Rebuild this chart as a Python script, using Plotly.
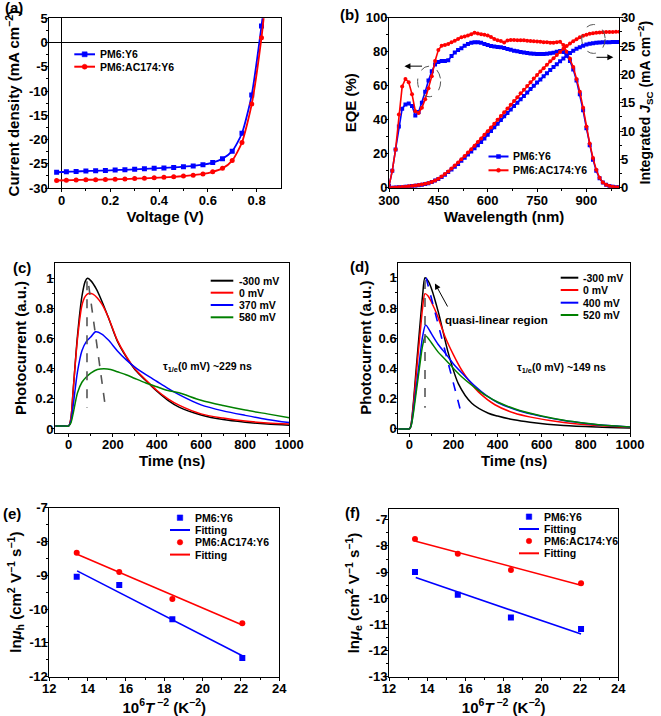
import plotly.graph_objects as go

W, H = 661, 716
FONT = "Liberation Sans, Arial, Helvetica, sans-serif"
BLUE = "#0000FF"
RED = "#FF0000"
GREEN = "#008000"
BLACK = "#000000"
GRAY = "#555555"

# ---------------- (a) J-V ----------------
a_voltage = [-0.02, 0.02, 0.06, 0.10, 0.14, 0.18, 0.22, 0.26, 0.30, 0.34, 0.38, 0.42,
             0.46, 0.50, 0.54, 0.58, 0.62, 0.66, 0.70, 0.74, 0.78, 0.82, 0.835]
a_j_pm6y6 = [-26.75, -26.65, -26.6, -26.5, -26.45, -26.4, -26.3, -26.25, -26.15, -26.05, -25.95, -25.85,
             -25.75, -25.6, -25.45, -25.2, -24.75, -23.95, -22.4, -18.7, -10.8, 3.4, 9.5]
a_j_ac174 = [-28.45, -28.4, -28.35, -28.3, -28.3, -28.25, -28.2, -28.15, -28.05, -28.0, -27.9, -27.8,
             -27.7, -27.55, -27.35, -27.1, -26.65, -25.95, -24.35, -20.6, -12.7, 1.0, 8.0]

# ---------------- (b) EQE + integrated Jsc ----------------
b_wavelength = [300, 310, 320, 330, 340, 350, 360, 370, 380, 390,
                400, 410, 420, 430, 440, 450, 460, 470, 480, 490,
                500, 510, 520, 530, 540, 550, 560, 570, 580, 590,
                600, 610, 620, 630, 640, 650, 660, 670, 680, 690,
                700, 710, 720, 730, 740, 750, 760, 770, 780, 790,
                800, 810, 820, 830, 840, 850, 860, 870, 880, 890,
                900, 910, 920, 930, 940, 950, 960, 970, 980, 990, 1000]
b_eqe_pm6y6 = [1, 10, 22.5, 36, 46.5, 49, 49.5, 48, 42.5, 44.5,
               50, 56.5, 63, 68.5, 72.5, 74, 74.5, 74.5, 75, 77.5,
               79.5, 81, 82, 83.5, 84.5, 85.2, 85.6, 85.5, 85.2, 84.6,
               84, 83.4, 83, 82.8, 82.6, 82.2, 81.6, 81.2, 80.6, 80.2,
               79.8, 79.5, 79.3, 79, 78.8, 78.7, 78.6, 78.7, 78.8, 79.1,
               79.4, 79.9, 80.4, 79.8, 77.8, 74.5, 69.5, 63, 55, 45.5,
               35, 25, 16.5, 10, 5.5, 3, 1.7, 1, 0.6, 0.3, 0.2]
b_eqe_ac174 = [1, 10, 22.5, 43, 59.5, 64, 62, 55, 45, 44,
               47, 52, 58.5, 65.5, 74.5, 81, 83.5, 84, 84.5, 85.5,
               86.5, 87.5, 88.5, 89, 89.6, 90.2, 91.2, 90.7, 90.3, 90,
               89.5, 88.6, 87.5, 86.8, 86.3, 85.4, 86.6, 86.9, 86.9, 86.8,
               86.8, 86.7, 86.5, 86.3, 86.2, 86, 85.8, 85.6, 85.5, 85.3,
               85.2, 85.5, 85.8, 84, 80, 76, 71, 64, 56.5, 47,
               36, 26, 17.5, 10.5, 5.8, 3.1, 1.8, 1, 0.6, 0.3, 0.2]
b_jsc_pm6y6 = [0, 0.01, 0.03, 0.06, 0.1, 0.15, 0.21, 0.28, 0.35, 0.43,
               0.53, 0.65, 0.8, 1.0, 1.25, 1.55, 1.9, 2.3, 2.75, 3.22,
               3.7, 4.2, 4.75, 5.3, 5.85, 6.4, 6.95, 7.5, 8.05, 8.7,
               9.35, 10.0, 10.65, 11.3, 11.95, 12.6, 13.2, 13.8, 14.4, 15.0,
               15.6, 16.2, 16.8, 17.4, 18.0, 18.55, 19.1, 19.65, 20.2, 20.75,
               21.3, 21.8, 22.3, 22.8, 23.3, 23.75, 24.15, 24.5, 24.8, 25.05,
               25.25, 25.4, 25.5, 25.57, 25.62, 25.65, 25.67, 25.68, 25.69, 25.7, 25.7]
b_jsc_ac174 = [0, 0.01, 0.03, 0.07, 0.12, 0.18, 0.25, 0.32, 0.39, 0.47,
               0.56, 0.68, 0.83, 1.02, 1.28, 1.6, 1.98, 2.4, 2.87, 3.37,
               3.9, 4.45, 5.02, 5.6, 6.2, 6.8, 7.42, 8.05, 8.68, 9.33,
               9.98, 10.63, 11.3, 11.97, 12.65, 13.32, 13.98, 14.65, 15.32, 15.98,
               16.65, 17.3, 17.95, 18.6, 19.25, 19.9, 20.5, 21.1, 21.7, 22.3,
               22.85, 23.4, 23.95, 24.5, 25.0, 25.45, 25.85, 26.2, 26.55, 26.8,
               27.0, 27.15, 27.27, 27.35, 27.4, 27.44, 27.46, 27.48, 27.49, 27.5, 27.5]

# ---------------- (c) TPC PM6:Y6 ----------------
c_t_m300 = [-60, -30, 0, 10, 20, 40, 60, 75, 85, 100, 125, 150, 180, 220, 260, 300, 350, 400, 450, 500,
            600, 700, 800, 900, 1000]
c_m300 = [0.02, 0.02, 0.02, 0.07, 0.25, 0.62, 0.88, 0.98, 1.0, 0.985, 0.93, 0.85, 0.74, 0.585, 0.48, 0.395,
          0.32, 0.25, 0.19, 0.145, 0.093, 0.062, 0.045, 0.033, 0.025]
c_t_0 = [-60, -30, 0, 10, 20, 40, 60, 75, 90, 110, 130, 150, 180, 220, 260, 300, 350, 400, 450, 500,
         600, 700, 800, 900, 1000]
c_0 = [0.02, 0.02, 0.02, 0.07, 0.25, 0.6, 0.82, 0.88, 0.9, 0.895, 0.87, 0.83, 0.74, 0.59, 0.485, 0.4,
       0.325, 0.255, 0.2, 0.158, 0.1, 0.072, 0.052, 0.04, 0.033]
c_t_370 = [-60, -30, 0, 10, 20, 40, 60, 80, 100, 122, 150, 180, 220, 260, 300, 350, 400, 450, 500,
           600, 700, 800, 900, 1000]
c_370 = [0.02, 0.02, 0.02, 0.05, 0.15, 0.38, 0.52, 0.58, 0.61, 0.645, 0.63, 0.59, 0.52, 0.46, 0.41, 0.36,
         0.315, 0.27, 0.228, 0.16, 0.12, 0.09, 0.063, 0.042]
c_t_580 = [-60, -30, 0, 10, 20, 40, 60, 80, 100, 130, 160, 190, 220, 260, 300, 350, 400, 450, 500,
           600, 700, 800, 900, 1000]
c_580 = [0.02, 0.02, 0.02, 0.04, 0.1, 0.24, 0.31, 0.345, 0.37, 0.395, 0.4, 0.395, 0.38, 0.36, 0.335, 0.305,
         0.28, 0.255, 0.24, 0.19, 0.155, 0.125, 0.1, 0.075]
c_guide1_t = [83, 83]
c_guide1_y = [0.98, 0.14]
c_guide2_t = [91, 166]
c_guide2_y = [0.95, 0.15]

# ---------------- (d) TPC PM6:AC174:Y6 ----------------
d_t_m300 = [-50, -20, 0, 5, 10, 20, 30, 40, 50, 60, 71, 85, 100, 133, 177, 222, 283, 358, 400, 474,
            547, 700, 850, 1000]
d_m300 = [0, 0, 0, 0.01, 0.05, 0.2, 0.38, 0.55, 0.72, 0.88, 1.0, 0.98, 0.93, 0.765, 0.5, 0.3, 0.17, 0.104,
          0.085, 0.06, 0.044, 0.022, 0.012, 0.006]
d_t_0 = [-50, -20, 0, 5, 10, 20, 30, 40, 50, 60, 71, 85, 100, 130, 162, 200, 237, 280, 313, 388,
         475, 550, 700, 850, 1000]
d_0 = [0, 0, 0, 0.01, 0.045, 0.18, 0.34, 0.5, 0.65, 0.8, 0.895, 0.88, 0.84, 0.74, 0.61, 0.49, 0.39, 0.3,
       0.245, 0.16, 0.105, 0.078, 0.042, 0.022, 0.01]
d_t_hi = [-50, -20, 0, 5, 10, 20, 30, 40, 50, 60, 74, 100, 130, 169, 200, 245, 300, 350, 400, 500,
          600, 700, 800, 900, 1000]
d_400 = [0, 0, 0, 0.01, 0.035, 0.14, 0.26, 0.38, 0.5, 0.61, 0.688, 0.63, 0.56, 0.49, 0.43, 0.36, 0.28,
         0.22, 0.175, 0.118, 0.083, 0.055, 0.036, 0.022, 0.013]
d_520 = [0, 0, 0, 0.01, 0.03, 0.12, 0.23, 0.34, 0.45, 0.55, 0.615, 0.57, 0.51, 0.45, 0.4, 0.335, 0.27,
         0.218, 0.178, 0.122, 0.086, 0.058, 0.038, 0.022, 0.013]
d_guide_t = [71, 71]
d_guide_y = [0.985, 0.14]
d_lin_t = [76, 237]
d_lin_y = [1.0, 0.093]

# ---------------- (e) ln mu_h vs T^-2 ----------------
e_x = [13.43, 15.65, 18.42, 22.07]
e_pm6y6 = [-9.04, -9.29, -10.3, -11.45]
e_ac174 = [-8.33, -8.9, -9.7, -10.42]
e_fit_x = [13.45, 22.07]
e_fit_pm6y6 = [-8.87, -11.38]
e_fit_ac174 = [-8.38, -10.47]

# ---------------- (f) ln mu_e vs T^-2 ----------------
f_x = [13.36, 15.6, 18.38, 22.05]
f_pm6y6 = [-9.0, -9.87, -10.74, -11.18]
f_ac174 = [-7.74, -8.3, -8.92, -9.43]
f_fit_x = [13.4, 22.05]
f_fit_pm6y6 = [-9.21, -11.37]
f_fit_ac174 = [-7.82, -9.5]


def px(x):
    return x / W


def py(y):
    return 1 - y / H


TICKFONT = dict(family=FONT, size=13, color="black", weight="bold")
TITLEFONT = dict(family=FONT, size=15, color="black", weight="bold")
LEGFONT = dict(family=FONT, size=10.5, color="black", weight="bold")


def fmt(v):
    return "%g" % v


def axis(domain, rng, major, minor, anchor, title="", standoff=6, is_x=True, tfont=None, **kw):
    d = dict(domain=domain, range=rng, anchor=anchor, showline=True, linecolor="black", linewidth=1,
             mirror=True, ticks="outside", ticklen=3, tickwidth=1, tickcolor="black",
             ticklabelstandoff=-3 if is_x else -5,
             showgrid=False, zeroline=False, tickfont=TICKFONT,
             tickmode="array", tickvals=major, ticktext=[fmt(v) for v in major],
             title=dict(text=title, font=tfont or TITLEFONT, standoff=standoff),
             minor=dict(ticks="outside", ticklen=2, tickwidth=1, tickcolor="black",
                        tickmode="array", tickvals=minor, showgrid=False),
             automargin=False)
    d.update(kw)
    return d


fig = go.Figure()

# (a)
fig.add_trace(go.Scatter(x=a_voltage, y=a_j_pm6y6, mode="lines+markers", name="PM6:Y6",
                         line=dict(color=BLUE, width=1.8, shape="spline", smoothing=0.6),
                         marker=dict(symbol="square", size=5, color=BLUE), xaxis="x", yaxis="y"))
fig.add_trace(go.Scatter(x=a_voltage, y=a_j_ac174, mode="lines+markers", name="PM6:AC174:Y6",
                         line=dict(color=RED, width=1.8, shape="spline", smoothing=0.6),
                         marker=dict(symbol="circle", size=5, color=RED), xaxis="x", yaxis="y"))

# (b)
fig.add_trace(go.Scatter(x=b_wavelength, y=b_eqe_pm6y6, mode="lines+markers", name="PM6:Y6",
                         line=dict(color=BLUE, width=1.6), marker=dict(symbol="square", size=4, color=BLUE),
                         xaxis="x2", yaxis="y2"))
fig.add_trace(go.Scatter(x=b_wavelength, y=b_eqe_ac174, mode="lines+markers", name="PM6:AC174:Y6",
                         line=dict(color=RED, width=1.6), marker=dict(symbol="circle", size=4, color=RED),
                         xaxis="x2", yaxis="y2"))
fig.add_trace(go.Scatter(x=b_wavelength, y=b_jsc_pm6y6, mode="lines+markers", name="PM6:Y6 Jsc",
                         line=dict(color=BLUE, width=1.6), marker=dict(symbol="square", size=4, color=BLUE),
                         xaxis="x2", yaxis="y3"))
fig.add_trace(go.Scatter(x=b_wavelength, y=b_jsc_ac174, mode="lines+markers", name="PM6:AC174:Y6 Jsc",
                         line=dict(color=RED, width=1.6), marker=dict(symbol="circle", size=4, color=RED),
                         xaxis="x2", yaxis="y3"))

# (c)
for t, y, c, n in [(c_t_m300, c_m300, BLACK, "-300 mV"), (c_t_0, c_0, RED, "0 mV"),
                   (c_t_370, c_370, BLUE, "370 mV"), (c_t_580, c_580, GREEN, "580 mV")]:
    fig.add_trace(go.Scatter(x=t, y=y, mode="lines", name=n,
                             line=dict(color=c, width=1.5, shape="spline", smoothing=0.8),
                             xaxis="x3", yaxis="y4"))
fig.add_trace(go.Scatter(x=c_guide1_t, y=c_guide1_y, mode="lines", line=dict(color=GRAY, width=1.6, dash="dash"),
                         xaxis="x3", yaxis="y4"))
fig.add_trace(go.Scatter(x=c_guide2_t, y=c_guide2_y, mode="lines", line=dict(color=GRAY, width=1.6, dash="dash"),
                         xaxis="x3", yaxis="y4"))

# (d)
for t, y, c, n in [(d_t_m300, d_m300, BLACK, "-300 mV"), (d_t_0, d_0, RED, "0 mV"),
                   (d_t_hi, d_400, BLUE, "400 mV"), (d_t_hi, d_520, GREEN, "520 mV")]:
    fig.add_trace(go.Scatter(x=t, y=y, mode="lines", name=n,
                             line=dict(color=c, width=1.5, shape="spline", smoothing=0.8),
                             xaxis="x4", yaxis="y5"))
fig.add_trace(go.Scatter(x=d_guide_t, y=d_guide_y, mode="lines", line=dict(color=GRAY, width=1.6, dash="dash"),
                         xaxis="x4", yaxis="y5"))
fig.add_trace(go.Scatter(x=d_lin_t, y=d_lin_y, mode="lines", line=dict(color=BLUE, width=1.6, dash="dash"),
                         xaxis="x4", yaxis="y5"))

# (e)
fig.add_trace(go.Scatter(x=e_x, y=e_pm6y6, mode="markers", marker=dict(symbol="square", size=6, color=BLUE),
                         xaxis="x5", yaxis="y6"))
fig.add_trace(go.Scatter(x=e_fit_x, y=e_fit_pm6y6, mode="lines", line=dict(color=BLUE, width=1.6),
                         xaxis="x5", yaxis="y6"))
fig.add_trace(go.Scatter(x=e_x, y=e_ac174, mode="markers", marker=dict(symbol="circle", size=6, color=RED),
                         xaxis="x5", yaxis="y6"))
fig.add_trace(go.Scatter(x=e_fit_x, y=e_fit_ac174, mode="lines", line=dict(color=RED, width=1.6),
                         xaxis="x5", yaxis="y6"))

# (f)
fig.add_trace(go.Scatter(x=f_x, y=f_pm6y6, mode="markers", marker=dict(symbol="square", size=6, color=BLUE),
                         xaxis="x6", yaxis="y7"))
fig.add_trace(go.Scatter(x=f_fit_x, y=f_fit_pm6y6, mode="lines", line=dict(color=BLUE, width=1.6),
                         xaxis="x6", yaxis="y7"))
fig.add_trace(go.Scatter(x=f_x, y=f_ac174, mode="markers", marker=dict(symbol="circle", size=6, color=RED),
                         xaxis="x6", yaxis="y7"))
fig.add_trace(go.Scatter(x=f_fit_x, y=f_fit_ac174, mode="lines", line=dict(color=RED, width=1.6),
                         xaxis="x6", yaxis="y7"))

fig.update_traces(showlegend=False, hoverinfo="skip")


def xd(a, b):
    return [px(a), px(b)]


def yd(top, bottom):
    return [py(bottom), py(top)]


SUP_T = "10<sup>6</sup><i>T</i><sup> −2</sup> (K<sup>−2</sup>)"
MU_UNITS = " (cm<sup>2</sup> V<sup>−1</sup> s<sup>−1</sup>)"

fig.update_layout(
    width=W, height=H, margin=dict(l=0, r=0, t=0, b=0),
    paper_bgcolor="white", plot_bgcolor="white", showlegend=False,
    font=dict(family=FONT, color="black"),
    # (a)
    xaxis=axis(xd(49.3, 281), [-0.05, 0.9], [0, 0.2, 0.4, 0.6, 0.8], [0.1, 0.3, 0.5, 0.7], "y",
               title="Voltage (V)", standoff=0, zeroline=True, zerolinecolor="black", zerolinewidth=1),
    yaxis=axis(yd(18.3, 188), [-30, 5], [-30, -25, -20, -15, -10, -5, 0, 5],
               [-27.5, -22.5, -17.5, -12.5, -7.5, -2.5, 2.5], "x", is_x=False,
               title="Current density (mA cm<sup>−2</sup>)", standoff=5,
               zeroline=True, zerolinecolor="black", zerolinewidth=1),
    # (b)
    xaxis2=axis(xd(389, 619.3), [300, 1000], [300, 450, 600, 750, 900], [375, 525, 675, 825, 975], "y2",
                title="Wavelength (nm)", standoff=0, ticklabelstandoff=-2),
    yaxis2=axis(yd(17.7, 187.7), [0, 100], [0, 20, 40, 60, 80, 100], [10, 30, 50, 70, 90], "x2", is_x=False,
                title="EQE (%)", standoff=5),
    yaxis3=axis(yd(17.7, 187.7), [0, 30], [0, 5, 10, 15, 20, 25, 30], [2.5, 7.5, 12.5, 17.5, 22.5, 27.5], "x2",
                is_x=False, title="Integrated <i>J</i><sub>SC</sub> (mA cm<sup>−2</sup>)", standoff=2,
                tfont=dict(family=FONT, size=14, color="black", weight="bold"),
                overlaying="y2", side="right", mirror=False),
    # (c)
    xaxis3=axis(xd(55, 289.3), [-62, 1000], [0, 200, 400, 600, 800, 1000], [100, 300, 500, 700, 900], "y4",
                title="Time (ns)", standoff=1),
    yaxis4=axis(yd(263.3, 432.7), [-0.025, 1.1], [0, 0.2, 0.4, 0.6, 0.8, 1], [0.1, 0.3, 0.5, 0.7, 0.9], "x3",
                is_x=False, title="Photocurrent (a.u.)", standoff=5),
    # (d)
    xaxis4=axis(xd(398.3, 630), [-50, 1000], [0, 200, 400, 600, 800, 1000], [100, 300, 500, 700, 900], "y5",
                title="Time (ns)", standoff=1),
    yaxis5=axis(yd(262.7, 432.7), [-0.025, 1.1], [0, 0.2, 0.4, 0.6, 0.8, 1], [0.1, 0.3, 0.5, 0.7, 0.9], "x4",
                is_x=False, title="Photocurrent (a.u.)", standoff=3),
    # (e)
    xaxis5=axis(xd(49.3, 279.3), [12, 24], [12, 14, 16, 18, 20, 22, 24], [13, 15, 17, 19, 21, 23], "y6",
                title=SUP_T, standoff=5),
    yaxis6=axis(yd(507.7, 676.7), [-12, -7], [-12, -11, -10, -9, -8, -7],
                [-11.5, -10.5, -9.5, -8.5, -7.5], "x5", is_x=False,
                title="ln<i>μ</i><sub>h</sub>" + MU_UNITS, standoff=3),
    # (f)
    xaxis6=axis(xd(389, 618.3), [12, 24], [12, 14, 16, 18, 20, 22, 24], [13, 15, 17, 19, 21, 23], "y7",
                title=SUP_T, standoff=6),
    yaxis7=axis(yd(509.3, 676.7), [-13, -6.6], [-13, -12, -11, -10, -9, -8, -7],
                [-12.5, -11.5, -10.5, -9.5, -8.5, -7.5], "x6", is_x=False,
                title="ln<i>μ</i><sub>e</sub>" + MU_UNITS, standoff=5),
)

shapes = []
annotations = []


def leg_item(row_y, line_x, text_x, text, color, symbol=None, marker_x=None, draw_line=True, msize=5):
    if draw_line:
        shapes.append(dict(type="line", xref="paper", yref="paper", x0=px(line_x[0]), x1=px(line_x[1]),
                           y0=py(row_y), y1=py(row_y), line=dict(color=color, width=2)))
    if symbol is not None:
        cx = marker_x if marker_x is not None else (line_x[0] + line_x[1]) / 2
        h = msize / 2
        shapes.append(dict(type="rect" if symbol == "square" else "circle", xref="paper", yref="paper",
                           x0=px(cx - h), x1=px(cx + h), y0=py(row_y + h), y1=py(row_y - h),
                           fillcolor=color, line=dict(color=color, width=0.5)))
    annotations.append(dict(text=text, xref="paper", yref="paper", x=px(text_x), y=py(row_y),
                            xanchor="left", yanchor="middle", showarrow=False, font=LEGFONT))


# legend (a)
leg_item(54.3, (74.3, 95), 97.5, "PM6:Y6", BLUE, "square")
leg_item(66.7, (74.3, 95), 97.5, "PM6:AC174:Y6", RED, "circle")
# legend (b)
leg_item(156.5, (488.5, 508.5), 511, "PM6:Y6", BLUE, "square", msize=4)
leg_item(170.3, (488.5, 508.5), 511, "PM6:AC174:Y6", RED, "circle", msize=4)
# legend (c)
for ry, txt, col in [(280.7, "-300 mV", BLACK), (292.7, "0 mV", RED), (305.0, "370 mV", BLUE),
                     (317.3, "580 mV", GREEN)]:
    leg_item(ry, (210.7, 233.3), 236.7, txt, col)
# legend (d)
for ry, txt, col in [(277.7, "-300 mV", BLACK), (290.0, "0 mV", RED), (302.7, "400 mV", BLUE),
                     (315.0, "520 mV", GREEN)]:
    leg_item(ry, (560.7, 578.3), 580.7, txt, col)
# legend (e)
leg_item(517.7, (170, 190), 192.7, "PM6:Y6", BLUE, "square", marker_x=180, draw_line=False, msize=5.5)
leg_item(530.0, (170, 190), 192.7, "Fitting", BLUE)
leg_item(542.3, (170, 190), 192.7, "PM6:AC174:Y6", RED, "circle", marker_x=180, draw_line=False, msize=5.5)
leg_item(554.6, (170, 190), 192.7, "Fitting", RED)
# legend (f)
leg_item(516.7, (519, 539), 541.7, "PM6:Y6", BLUE, "square", marker_x=529, draw_line=False, msize=5.5)
leg_item(529.0, (519, 539), 541.7, "Fitting", BLUE)
leg_item(541.0, (519, 539), 541.7, "PM6:AC174:Y6", RED, "circle", marker_x=529, draw_line=False, msize=5.5)
leg_item(553.3, (519, 539), 541.7, "Fitting", RED)

# (b) decorations
shapes.append(dict(type="circle", xref="x2", yref="y2", x0=387, x1=457, y0=53.5, y1=71.5,
                   line=dict(color=GRAY, width=1, dash="dash")))
shapes.append(dict(type="circle", xref="x2", yref="y2", x0=886, x1=957, y0=79, y1=96,
                   line=dict(color=GRAY, width=1, dash="dash")))
annotations.append(dict(x=347, y=71.5, ax=405, ay=71.5, xref="x2", yref="y2", axref="x2", ayref="y2",
                        text="", showarrow=True, arrowhead=2, arrowsize=1.2, arrowwidth=1, arrowcolor="black"))
annotations.append(dict(x=982, y=76.7, ax=926, ay=76.7, xref="x2", yref="y2", axref="x2", ayref="y2",
                        text="", showarrow=True, arrowhead=2, arrowsize=1.2, arrowwidth=1, arrowcolor="black"))

# (c) / (d) notes
annotations.append(dict(text="τ<sub>1/e</sub>(0 mV) ~229 ns", x=629, y=0.41, xref="x3", yref="y4",
                        showarrow=False, font=dict(family=FONT, size=10.5, color="black", weight="bold")))
annotations.append(dict(text="τ<sub>1/e</sub>(0 mV) ~149 ns", x=690, y=0.40, xref="x4", yref="y5",
                        showarrow=False, font=dict(family=FONT, size=10.5, color="black", weight="bold")))
annotations.append(dict(text="quasi-linear region", x=396, y=0.72, xref="x4", yref="y5",
                        showarrow=False, font=dict(family=FONT, size=11.5, color="black", weight="bold")))
annotations.append(dict(x=116, y=0.963, ax=177, ay=0.8, xref="x4", yref="y5", axref="x4", ayref="y5",
                        text="", showarrow=True, arrowhead=2, arrowsize=1.2, arrowwidth=1, arrowcolor="black"))

# panel labels
for lbl, x, y in [("(a)", 14, 8), ("(b)", 349, 15), ("(c)", 22, 267), ("(d)", 359, 266),
                  ("(e)", 12, 513), ("(f)", 352, 512)]:
    annotations.append(dict(text=lbl, x=px(x), y=py(y), xref="paper", yref="paper", showarrow=False,
                            xanchor="center", yanchor="middle",
                            font=dict(family=FONT, size=15, color="black", weight="bold")))

fig.update_layout(shapes=shapes, annotations=annotations)
fig.write_html("out.html", config={"displayModeBar": False, "staticPlot": True},
               post_script="document.body.style.margin='0';document.body.style.overflow='hidden';")
